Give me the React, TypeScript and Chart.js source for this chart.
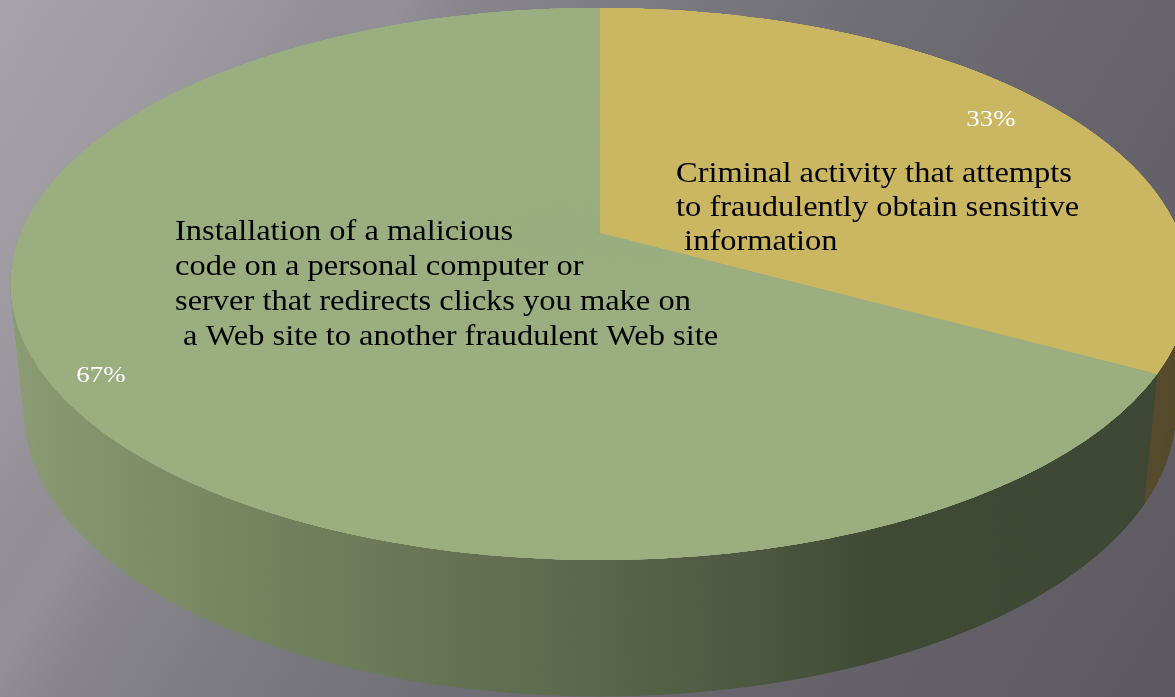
import React, { useEffect, useRef } from "react";
import { Chart, registerables } from "chart.js";

Chart.register(...registerables);

// ---- data ----
const categories = [
  "Criminal activity that attempts to fraudulently obtain sensitive information",
  "Installation of a malicious code on a personal computer or server that redirects clicks you make on a Web site to another fraudulent Web site",
];
const values = [33, 67];
const percentLabels = ["33%", "67%"];
const categoryLines = [
  ["Criminal activity that attempts", "to fraudulently obtain sensitive", " information"],
  [
    "Installation of a malicious",
    "code on a personal computer or",
    "server that redirects clicks you make on",
    " a Web site to another fraudulent Web site",
  ],
];

// ---- styles ----
const topColors = ["#cbb762", "#9aae80"];
const W = 1175;
const H = 697;
const APEX = { x: 600, y: 233 };
const TOP = { cx: 600, cy: 233, a: 579, b: 266.6, k: 0.1848 };
const BOT = { cx: 600, cy: 360, a: 565, b: 273.8, k: 0.1848 };
const FONT = '"Liberation Serif", "Times New Roman", serif';
const TEXT_STRETCH = 1.12;

type P = { cx: number; cy: number; a: number; b: number; k: number };
function proj(p: P, phi: number) {
  const u = Math.cos(phi);
  const v = Math.sin(phi);
  const d = 1 - p.k * v;
  return { x: p.cx + (p.a * u) / d, y: p.cy + (p.b * v) / d };
}

const pie3d = {
  id: "pie3d",
  beforeDatasetsDraw(chart: any) {
    const ctx: CanvasRenderingContext2D = chart.ctx;
    const dpr = chart.currentDevicePixelRatio || 1;
    const arcs: any[] = chart.getDatasetMeta(0).data;
    if (!arcs.length) return false;

    // ---- side walls (painter's order, far to near) ----
    ctx.save();
    ctx.setTransform(dpr, 0, 0, dpr, 0, 0);
    const green = ctx.createLinearGradient(0, 0, W, 0);
    green.addColorStop(0.0, "#8b9b73");
    green.addColorStop(20 / W, "#8a9a72");
    green.addColorStop(250 / W, "#74845f");
    green.addColorStop(560 / W, "#5d6a4d");
    green.addColorStop(780 / W, "#4a553e");
    green.addColorStop(880 / W, "#3f4934");
    green.addColorStop(1.0, "#3d4733");
    const wallStyles: any[] = ["#564c2d", green];

    const quads: { i: number; p0: number; p1: number; depth: number }[] = [];
    arcs.forEach((arc: any, i: number) => {
      const a0 = Math.max(arc.startAngle, 0.12);
      const a1 = Math.min(arc.endAngle, Math.PI - 0.12);
      if (a1 <= a0) return;
      const n = Math.max(2, Math.ceil((a1 - a0) / 0.01));
      for (let j = 0; j < n; j++) {
        const p0 = a0 + ((a1 - a0) * j) / n;
        const p1 = a0 + ((a1 - a0) * (j + 1)) / n;
        quads.push({ i, p0, p1, depth: Math.sin((p0 + p1) / 2) });
      }
    });
    quads.sort((q, r) => q.depth - r.depth);
    ctx.lineWidth = 1;
    ctx.lineJoin = "round";
    for (const q of quads) {
      const t0 = proj(TOP, q.p0);
      const t1 = proj(TOP, q.p1);
      const b0 = proj(BOT, q.p0);
      const b1 = proj(BOT, q.p1);
      ctx.beginPath();
      ctx.moveTo(t0.x, t0.y);
      ctx.lineTo(t1.x, t1.y);
      ctx.lineTo(b1.x, b1.y);
      ctx.lineTo(b0.x, b0.y);
      ctx.closePath();
      ctx.fillStyle = wallStyles[q.i % wallStyles.length];
      ctx.strokeStyle = wallStyles[q.i % wallStyles.length];
      ctx.fill();
      ctx.stroke();
    }
    ctx.restore();

    // ---- top face: library arcs, piecewise-affine perspective ----
    const cx = arcs[0].x;
    const cy = arcs[0].y;
    const R = arcs[0].outerRadius;
    const N = 180;
    const start = -Math.PI / 2;
    const delta = 0.02;
    for (let pass = 0; pass < 3; pass++) {
      for (let j = 0; j < N; j++) {
        const f0 = start + (2 * Math.PI * j) / N;
        const f1 = start + (2 * Math.PI * (j + 1)) / N;
        const q0 = proj(TOP, f0);
        const q1 = proj(TOP, f1);
        const Q0x = q0.x - APEX.x, Q0y = q0.y - APEX.y;
        const Q1x = q1.x - APEX.x, Q1y = q1.y - APEX.y;
        const c0 = Math.cos(f0), s0 = Math.sin(f0), c1 = Math.cos(f1), s1 = Math.sin(f1);
        const det = c0 * s1 - c1 * s0;
        const M00 = (Q0x * s1 - Q1x * s0) / det;
        const M01 = (-Q0x * c1 + Q1x * c0) / det;
        const M10 = (Q0y * s1 - Q1y * s0) / det;
        const M11 = (-Q0y * c1 + Q1y * c0) / det;

        ctx.save();
        ctx.setTransform(dpr, 0, 0, dpr, 0, 0);
        const e0 = proj(TOP, f0 - delta);
        const e1 = proj(TOP, f1 + delta);
        ctx.beginPath();
        ctx.moveTo(APEX.x, APEX.y);
        ctx.lineTo(APEX.x + 1.6 * (e0.x - APEX.x), APEX.y + 1.6 * (e0.y - APEX.y));
        ctx.lineTo(APEX.x + 1.6 * (e1.x - APEX.x), APEX.y + 1.6 * (e1.y - APEX.y));
        ctx.closePath();
        ctx.clip();
        const ta = M00 / R, tb = M10 / R, tc = M01 / R, td = M11 / R;
        const te = APEX.x - (ta * cx + tc * cy);
        const tf = APEX.y - (tb * cx + td * cy);
        ctx.setTransform(dpr * ta, dpr * tb, dpr * tc, dpr * td, dpr * te, dpr * tf);
        arcs.forEach((arc: any) => arc.draw(ctx));
        ctx.restore();
      }
    }
    return false;
  },
  afterDraw(chart: any) {
    const ctx: CanvasRenderingContext2D = chart.ctx;
    const dpr = chart.currentDevicePixelRatio || 1;
    const drawText = (t: string, x: number, y: number, align: CanvasTextAlign) => {
      ctx.save();
      ctx.translate(x, y);
      ctx.scale(TEXT_STRETCH, 1);
      ctx.textAlign = align;
      ctx.fillText(t, 0, 0);
      ctx.restore();
    };
    ctx.save();
    ctx.setTransform(dpr, 0, 0, dpr, 0, 0);
    // percentage labels
    ctx.fillStyle = "#ffffff";
    ctx.font = `24px ${FONT}`;
    ctx.textBaseline = "middle";
    const pctPos = [
      { x: 991, y: 120 },
      { x: 101, y: 376 },
    ];
    percentLabels.forEach((t, i) => drawText(t, pctPos[i].x, pctPos[i].y, "center"));
    // category labels
    ctx.fillStyle = "#000000";
    ctx.font = `29px ${FONT}`;
    ctx.textBaseline = "alphabetic";
    const catPos = [
      { x: 676, y: 182, lh: 34 },
      { x: 175, y: 240, lh: 35 },
    ];
    categoryLines.forEach((lines, i) => {
      lines.forEach((line, k) => drawText(line, catPos[i].x, catPos[i].y + k * catPos[i].lh, "left"));
    });
    ctx.restore();
  },
};

export default function App() {
  const ref = useRef<HTMLCanvasElement | null>(null);
  useEffect(() => {
    if (!ref.current) return;
    const chart = new Chart(ref.current, {
      type: "pie",
      data: {
        labels: categories,
        datasets: [
          {
            data: values,
            backgroundColor: topColors,
            borderWidth: 0,
          },
        ],
      },
      options: {
        responsive: false,
        maintainAspectRatio: false,
        animation: false,
        rotation: 0,
        layout: { padding: 0 },
        plugins: {
          legend: { display: false },
          tooltip: { enabled: false },
          title: { display: false },
        },
      },
      plugins: [pie3d],
    });
    return () => chart.destroy();
  }, []);

  return (
    <div
      style={{
        position: "fixed",
        left: 0,
        top: 0,
        width: W,
        height: H,
        overflow: "hidden",
        background:
          "linear-gradient(121deg, rgba(255,255,255,0) 0%, rgba(255,255,255,0) 22%, rgba(255,255,255,0.05) 25%, rgba(255,255,255,0) 29%), linear-gradient(121.6deg, #a6a4aa 0%, #9c9aa0 14%, #8d8b91 25%, #7d7b82 40%, #706e75 55%, #67656b 72%, #5c5a60 100%)",
      }}
    >
      <canvas ref={ref} width={W} height={H} style={{ display: "block" }} />
    </div>
  );
}
